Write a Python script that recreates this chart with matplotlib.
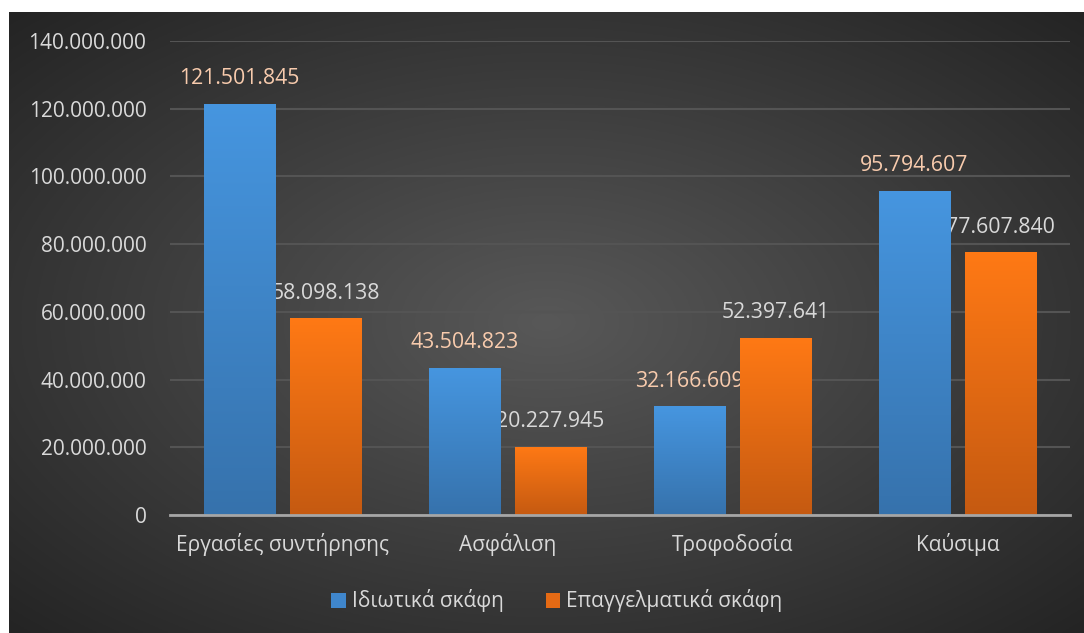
import numpy as np
import matplotlib
matplotlib.use("Agg")
import matplotlib.pyplot as plt
from matplotlib.patches import Patch

plt.rcParams['font.family'] = ['Open Sans', 'DejaVu Sans']

categories = ["Εργασίες συντήρησης", "Ασφάλιση", "Τροφοδοσία", "Καύσιμα"]
series_names = ["Ιδιωτικά σκάφη", "Επαγγελματικά σκάφη"]
private = [121501845, 43504823, 32166609, 95794607]
professional = [58098138, 20227945, 52397641, 77607840]
yticks = [0, 20000000, 40000000, 60000000, 80000000, 100000000, 120000000, 140000000]


def fmt(v):
    return "{:,}".format(int(v)).replace(",", ".")


W, H = 1084, 633
fig = plt.figure(figsize=(W / 100, H / 100), dpi=100, facecolor="white")

# radial gradient background (white strip at top and left)
bg = fig.add_axes([9 / W, 0, 1 - 9 / W, 1 - 12 / H], zorder=-10)
yy, xx = np.mgrid[0:1:300j, 0:1:500j]
r = np.sqrt(((xx - 0.5) / 0.5) ** 2 + ((yy - 0.5) / 0.5) ** 2) / np.sqrt(2)
shade = (0x58 - (0x58 - 0x24) * r) / 255.0
bg.imshow(np.dstack([shade, shade, shade]), aspect="auto", extent=[0, 1, 0, 1])
bg.set_axis_off()

ax = fig.add_axes([170 / W, (H - 515) / H, 900 / W, (515 - 41) / H])
ax.patch.set_alpha(0)

x = np.arange(len(categories))
bw = 0.316
off = 0.191
grads = [((0.275, 0.588, 0.878), (0.212, 0.447, 0.675)),
         ((1.0, 0.475, 0.082), (0.773, 0.353, 0.067))]
label_colors = ["#F8CBAD", "#D9D9D9"]
fs = 15

for i, (vals, (top, bot)) in enumerate(zip([private, professional], grads)):
    pos = x + (-off if i == 0 else off)
    bars = ax.bar(pos, vals, bw, color=bot, zorder=3)
    t = np.linspace(0, 1, 256)[:, None]
    img = np.dstack([top[k] + (bot[k] - top[k]) * t for k in range(3)])
    for b, v in zip(bars, vals):
        im = ax.imshow(img, aspect="auto", zorder=3.5,
                       extent=[b.get_x(), b.get_x() + b.get_width(), 0, v])
        im.set_clip_path(b)
        ax.annotate(fmt(v), (b.get_x() + b.get_width() / 2, v),
                    xytext=(0, 18), textcoords="offset points",
                    ha="center", va="center", fontsize=15.3,
                    color=label_colors[i])

ax.set_xlim(-0.5, len(categories) - 0.5)
ax.set_ylim(0, 140000000)
ax.set_yticks(yticks)
ax.set_yticklabels([fmt(v) for v in yticks])
ax.set_xticks(x)
ax.set_xticklabels(categories)
ax.yaxis.grid(True, color="#545454", lw=1.5, zorder=0)
ax.set_axisbelow(True)
for s in ["top", "right", "left"]:
    ax.spines[s].set_visible(False)
ax.spines["bottom"].set_color("#A6A6A6")
ax.spines["bottom"].set_linewidth(2)
ax.spines["bottom"].set_zorder(5)
ax.tick_params(axis="both", length=0, colors="#D9D9D9", labelsize=fs)
ax.tick_params(axis="y", pad=17)
ax.tick_params(axis="x", pad=13)

handles = [Patch(facecolor="#3F86CC", label=series_names[0]),
           Patch(facecolor="#E56A14", label=series_names[1])]
leg = fig.legend(handles=handles, loc="center", ncol=2,
                 bbox_to_anchor=(557 / W, (H - 601) / H), frameon=False,
                 fontsize=fs, handlelength=0.7, handleheight=0.7,
                 handletextpad=0.3, columnspacing=2.0)
for txt in leg.get_texts():
    txt.set_color("#D9D9D9")

fig.savefig("out.png", dpi=100, facecolor="white")
